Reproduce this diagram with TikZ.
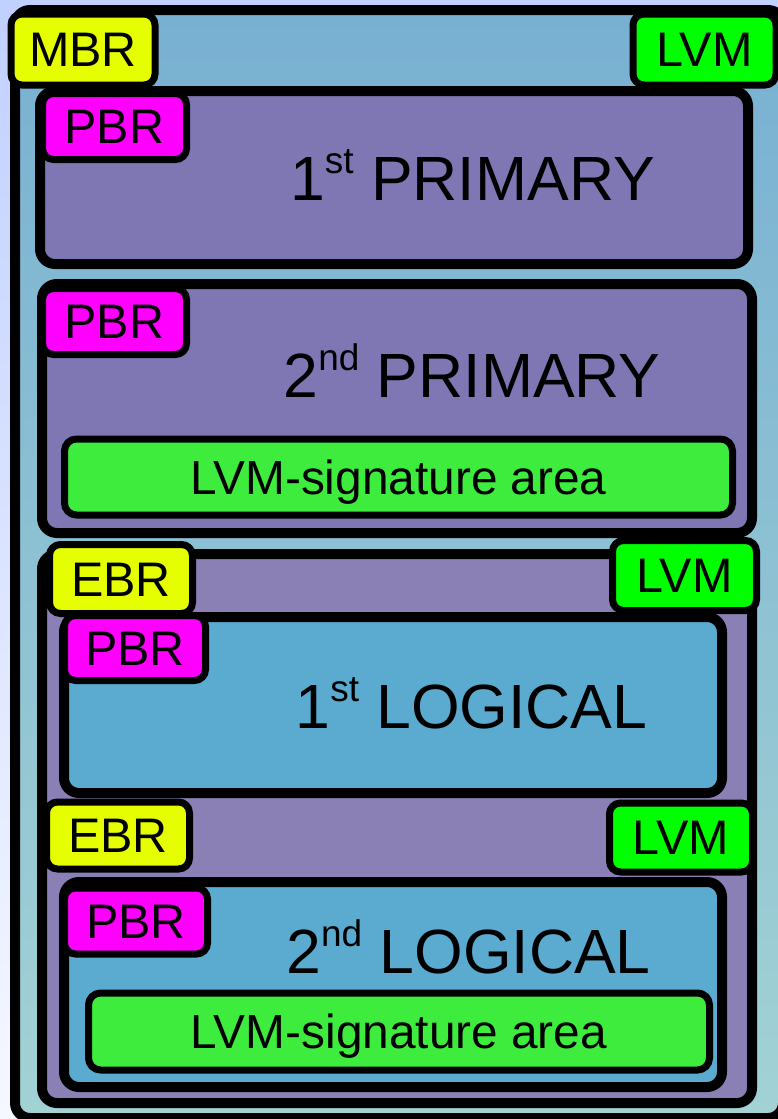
\documentclass[tikz,border=0pt]{standalone}
\usepackage{fontspec}
\setmainfont{Liberation Sans}
\definecolor{bgtop}{RGB}{192,208,255}
\definecolor{bgbot}{RGB}{246,248,255}
\definecolor{outtop}{RGB}{120,176,210}
\definecolor{outbot}{RGB}{162,210,212}
\definecolor{primfill}{RGB}{127,119,180}
\definecolor{extfill}{RGB}{138,128,181}
\definecolor{logfill}{RGB}{90,171,207}
\definecolor{lvmgreen}{RGB}{0,255,0}
\definecolor{siggreen}{RGB}{62,236,62}
\definecolor{tagyellow}{RGB}{230,255,0}
\definecolor{tagmagenta}{RGB}{255,0,255}
\newcommand{\supr}[1]{\raisebox{27pt}{\fontsize{37}{37}\selectfont #1}}
\tikzset{
  part/.style={draw=black, line width=10pt, rounded corners=15pt, inner sep=0pt},
  tag/.style={draw=black, line width=7pt, rounded corners=11pt, inner sep=0pt,
    font=\fontsize{48.5}{48.5}\selectfont, text height=34.7pt, text depth=0pt},
  sigtag/.style={draw=black, fill=siggreen, line width=7pt, rounded corners=12pt, inner sep=0pt,
    font=\fontsize{47.8}{47.8}\selectfont, text height=34.2pt, text depth=0pt},
  title/.style={anchor=base, inner sep=0pt, font=\fontsize{62.5}{62.5}\selectfont},
}
\begin{document}
\begin{tikzpicture}[x=1pt, y=-1pt]
\useasboundingbox (0,0) rectangle (778,1119);
\clip (0,0) rectangle (778,1119);
\fill[top color=bgtop, bottom color=bgbot] (0,0) rectangle (778,1119);
% outer disk
\node[part, top color=outtop, bottom color=outbot, minimum width=768pt, minimum height=1108pt] (disk) at (399,564) {};
\node[tag, fill=tagyellow, minimum width=144pt, minimum height=71pt] (mbr) at (83,49.5) {MBR};
\node[tag, fill=lvmgreen, minimum width=143pt, minimum height=71pt] (lvm0) at (704.5,49.5) {LVM};
% 1st primary
\node[part, fill=primfill, minimum width=708pt, minimum height=173pt] (prim1) at (394,177.5) {};
\node[tag, fill=tagmagenta, minimum width=144pt, minimum height=66pt] (pbr1) at (114.5,126.5) {PBR};
\node[title] (prim1t) at (472.5,200) {1\supr{st} PRIMARY};
% 2nd primary
\node[part, fill=primfill, minimum width=710pt, minimum height=249pt] (prim2) at (397,408.5) {};
\node[tag, fill=tagmagenta, minimum width=144pt, minimum height=66pt] (pbr2) at (114.5,321.5) {PBR};
\node[title] (prim2t) at (472,397) {2\supr{nd} PRIMARY};
\node[sigtag, minimum width=668pt, minimum height=76pt] (sig1) at (398.5,477) {LVM-signature area};
% extended partition
\node[part, fill=extfill, minimum width=710pt, minimum height=549pt] (ext) at (397,828.5) {};
\node[tag, fill=tagyellow, minimum width=143pt, minimum height=69pt] (ebr1) at (121,579) {EBR};
\node[tag, fill=lvmgreen, minimum width=144pt, minimum height=70pt] (lvm1) at (684.5,575.5) {LVM};
% 1st logical
\node[part, fill=logfill, minimum width=658pt, minimum height=176pt] (log1) at (393,705) {};
\node[tag, fill=tagmagenta, minimum width=141pt, minimum height=65pt] (pbr3) at (135,648) {PBR};
\node[title] (log1t) at (471.5,728) {1\supr{st} LOGICAL};
% 2nd logical
\node[tag, fill=tagyellow, minimum width=143pt, minimum height=67pt] (ebr2) at (118,835.5) {EBR};
\node[tag, fill=lvmgreen, minimum width=143pt, minimum height=69pt] (lvm2) at (681,837.5) {LVM};
\node[part, fill=logfill, minimum width=658pt, minimum height=205pt] (log2) at (393,984.5) {};
\node[tag, fill=tagmagenta, minimum width=143pt, minimum height=66pt] (pbr4) at (136,921) {PBR};
\node[title] (log2t) at (468.5,973) {2\supr{nd} LOGICAL};
\node[sigtag, minimum width=621pt, minimum height=77pt] (sig2) at (399,1031.5) {LVM-signature area};
\end{tikzpicture}
\end{document}
